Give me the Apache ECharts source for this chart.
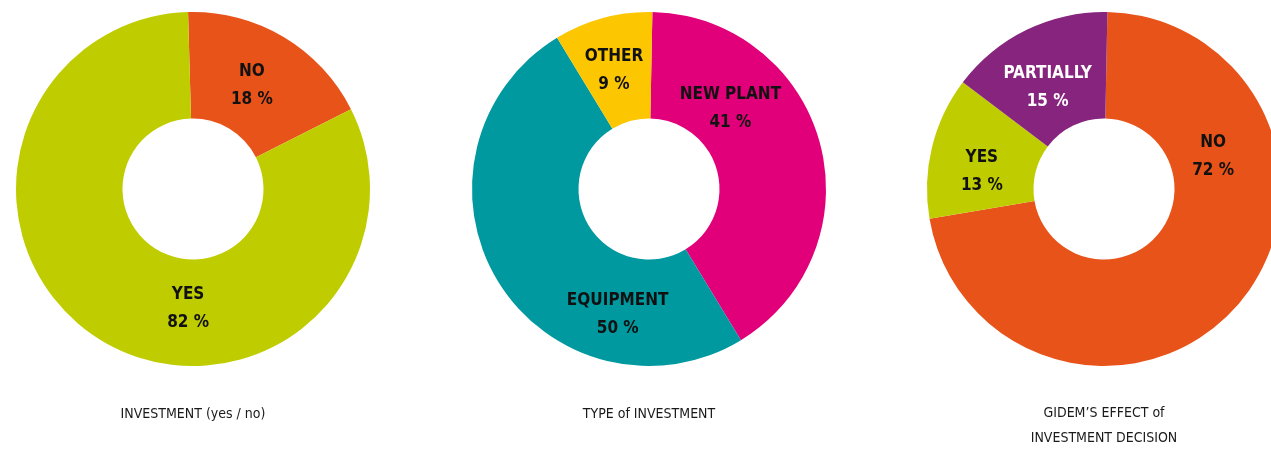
<!DOCTYPE html>
<html>
<head>
<meta charset="utf-8">
<script src="https://cdn.jsdelivr.net/npm/echarts@6/dist/echarts.min.js"></script>
<style>
  html, body { margin: 0; padding: 0; background: #fff; }
  #chart { width: 1271px; height: 452px; }
</style>
</head>
<body>
<div id="chart"></div>
<script>
// Investment (yes / no)
const investCats = ['NO', 'YES'];
const investVals = [18, 82];

// Type of investment
const typeCats = ['NEW PLANT', 'EQUIPMENT', 'OTHER'];
const typeVals = [41, 50, 9];

// GIDEM's effect on the investment decision
const effectCats = ['NO', 'YES', 'PARTIALLY'];
const effectVals = [72, 13, 15];

const chartTitles = [
  'INVESTMENT (yes / no)',
  'TYPE of INVESTMENT',
  'GIDEM\u2019S EFFECT of\nINVESTMENT DECISION'
];

// Palette
const ORANGE = '#E8531A';
const LIME = '#BFCD00';
const MAGENTA = '#E2007A';
const TEAL = '#0099A0';
const YELLOW = '#FCC600';
const PURPLE = '#87257E';

const FONT = "'Liberation Sans Narrow', 'DejaVu Sans Condensed', 'Roboto', sans-serif";

const donuts = [
  {
    cats: investCats, vals: investVals, cx: 193, start: 91.6,
    colors: [ORANGE, LIME],
    text: ['#111', '#111'],
    nudge: [[-6, 5], [60, 11]]
  },
  {
    cats: typeCats, vals: typeVals, cx: 649, start: 88.9,
    colors: [MAGENTA, TEAL, YELLOW],
    text: ['#111', '#111', '#111'],
    nudge: [[-41, -47], [77, 60], [-2, 4]]
  },
  {
    cats: effectCats, vals: effectVals, cx: 1104, start: 88.9,
    colors: [ORANGE, LIME, PURPLE],
    text: ['#111', '#111', '#fff'],
    nudge: [[13, -115], [1, 13], [-1, 13]]
  }
];

const series = donuts.map(function (d) {
  return {
    type: 'pie',
    center: [d.cx, 189],
    radius: [70.5, 177],
    startAngle: d.start,
    clockwise: true,
    avoidLabelOverlap: false,
    silent: true,
    itemStyle: { borderWidth: 0 },
    labelLine: { show: false },
    labelLayout: function (p) {
      const n = d.nudge[p.dataIndex];
      return { dx: n[0], dy: n[1] };
    },
    data: d.cats.map(function (c, i) {
      return {
        name: c,
        value: d.vals[i],
        itemStyle: { color: d.colors[i] },
        label: {
          rich: {
            n: { color: d.text[i], fontFamily: FONT, fontWeight: 'bold', fontSize: 17, lineHeight: 28, align: 'center' },
            v: { color: d.text[i], fontFamily: FONT, fontWeight: 'bold', fontSize: 17, lineHeight: 28, align: 'center' }
          }
        }
      };
    }),
    label: {
      show: true,
      position: 'inside',
      formatter: '{n|{b}}\n{v|{c} %}'
    }
  };
});

const titleGraphics = donuts.map(function (d, i) {
  return {
    type: 'text',
    x: d.cx,
    y: i === 2 ? 426 : 414,
    silent: true,
    style: {
      text: chartTitles[i],
      align: 'center',
      verticalAlign: 'middle',
      fontFamily: FONT,
      fontSize: 14,
      lineHeight: 25,
      fill: '#1a1a1a'
    }
  };
});

const chart = echarts.init(document.getElementById('chart'), null, { renderer: 'canvas' });
chart.setOption({
  animation: false,
  backgroundColor: '#ffffff',
  series: series,
  graphic: titleGraphics
});
</script>
</body>
</html>
